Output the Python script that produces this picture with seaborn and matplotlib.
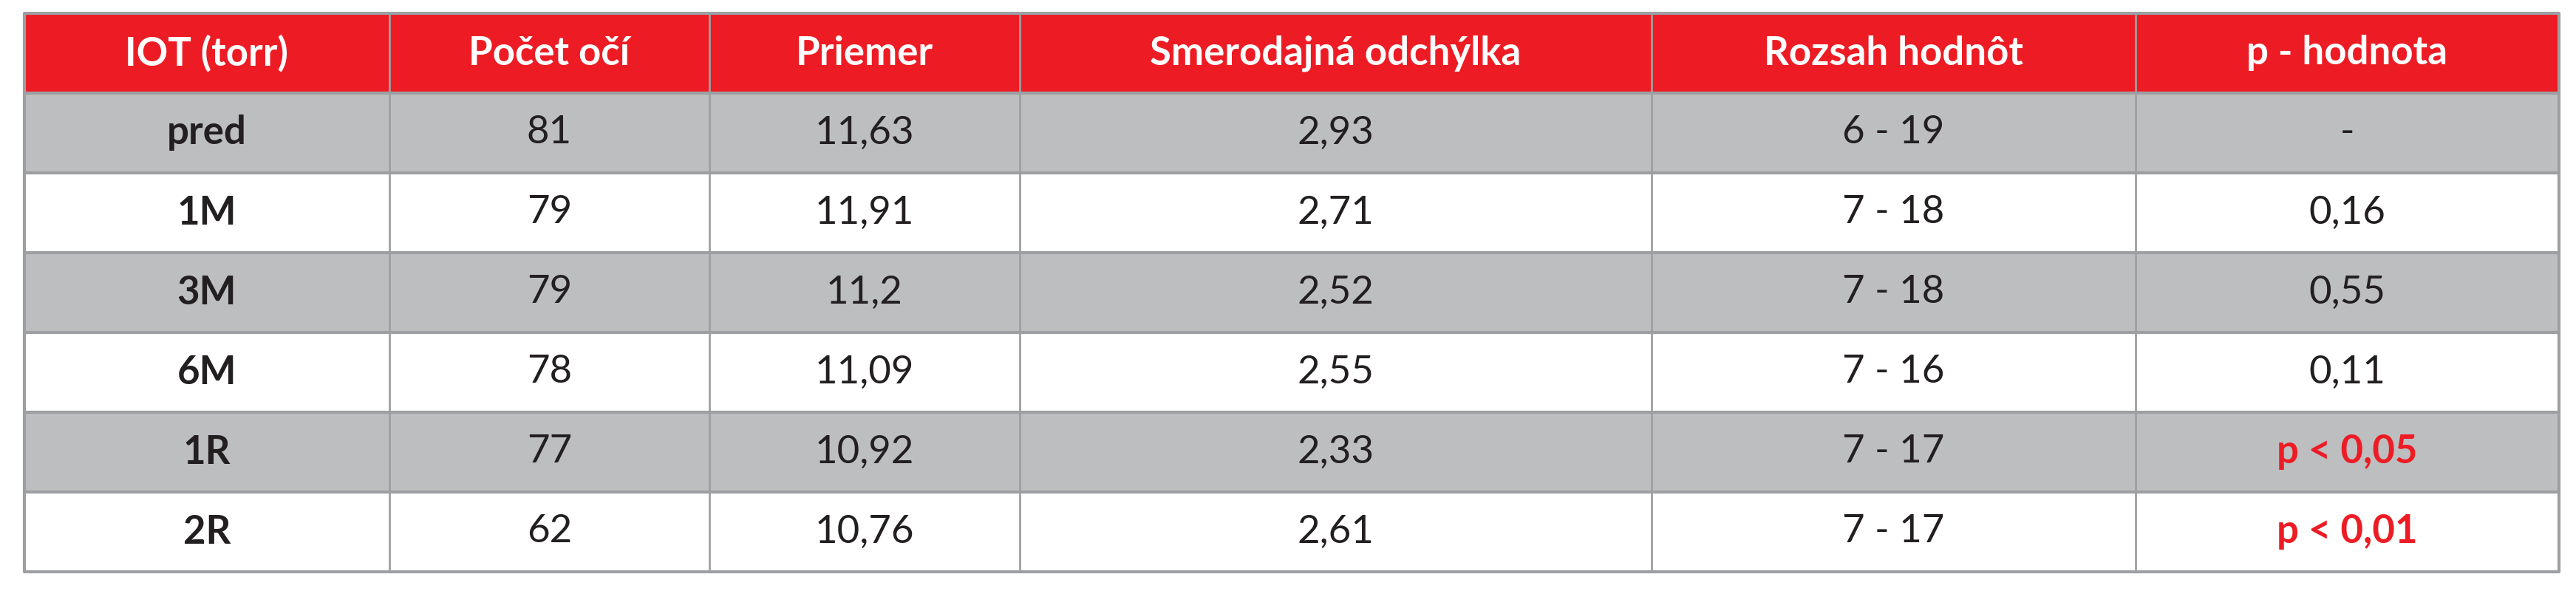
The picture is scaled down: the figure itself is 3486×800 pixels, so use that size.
import numpy as np
import pandas as pd
import matplotlib.pyplot as plt
import seaborn as sns

# data
headers = ['IOT (torr)', 'Počet očí', 'Priemer', 'Smerodajná odchýlka', 'Rozsah hodnôt', 'p - hodnota']
groups = ['pred', '1M', '3M', '6M', '1R', '2R']
eyes = ['81', '79', '79', '78', '77', '62']
means = ['11,63', '11,91', '11,2', '11,09', '10,92', '10,76']
sds = ['2,93', '2,71', '2,52', '2,55', '2,33', '2,61']
ranges = ['6 - 19', '7 - 18', '7 - 18', '7 - 16', '7 - 17', '7 - 17']
pvals = ['-', '0,16', '0,55', '0,11', 'p < 0,05', 'p < 0,01']
significant = [False, False, False, False, True, True]

df = pd.DataFrame({h: c for h, c in zip(headers, [groups, eyes, means, sds, ranges, pvals])})

RED = '#ED1C24'
GRAY = '#BCBEC0'
LINE = '#9D9FA2'

sns.set_theme(style='white')
plt.rcParams['font.family'] = ['Lato', 'DejaVu Sans']

W, H = 3486, 800
fig = plt.figure(figsize=(W / 100, H / 100), dpi=100)
ax = fig.add_axes([0, 0, 1, 1])
ax.set_xlim(0, W)
ax.set_ylim(H, 0)
ax.axis('off')

col_edges = [33, 527, 960, 1380, 2235, 2890, 3463]
top, row_h = 18, 108
n_rows = len(df) + 1

for r in range(n_rows):
    y0 = top + r * row_h
    if r == 0:
        fc = RED
    else:
        fc = GRAY if r % 2 == 1 else 'white'
    ax.add_patch(plt.Rectangle((col_edges[0], y0), col_edges[-1] - col_edges[0], row_h,
                               facecolor=fc, edgecolor='none'))
    for c in range(len(headers)):
        xc = (col_edges[c] + col_edges[c + 1]) / 2
        yc = y0 + row_h / 2
        if r == 0:
            ax.text(xc, yc, headers[c], color='white', fontsize=38, fontweight='bold',
                    ha='center', va='center')
        else:
            val = df.iloc[r - 1, c]
            bold = c == 0 or (c == 5 and significant[r - 1])
            color = RED if (c == 5 and significant[r - 1]) else '#231F20'
            ax.text(xc, yc, val, color=color, fontsize=38,
                    fontweight='bold' if bold else 'normal', ha='center', va='center')

# grid lines
bottom = top + n_rows * row_h
for y in range(n_rows + 1):
    yy = top + y * row_h
    ax.plot([col_edges[0], col_edges[-1]], [yy, yy], color=LINE, lw=3, solid_capstyle='butt')
for x in col_edges:
    ax.plot([x, x], [top, bottom], color=LINE, lw=2 if x not in (col_edges[0], col_edges[-1]) else 3)

fig.savefig('out.png', dpi=100)
